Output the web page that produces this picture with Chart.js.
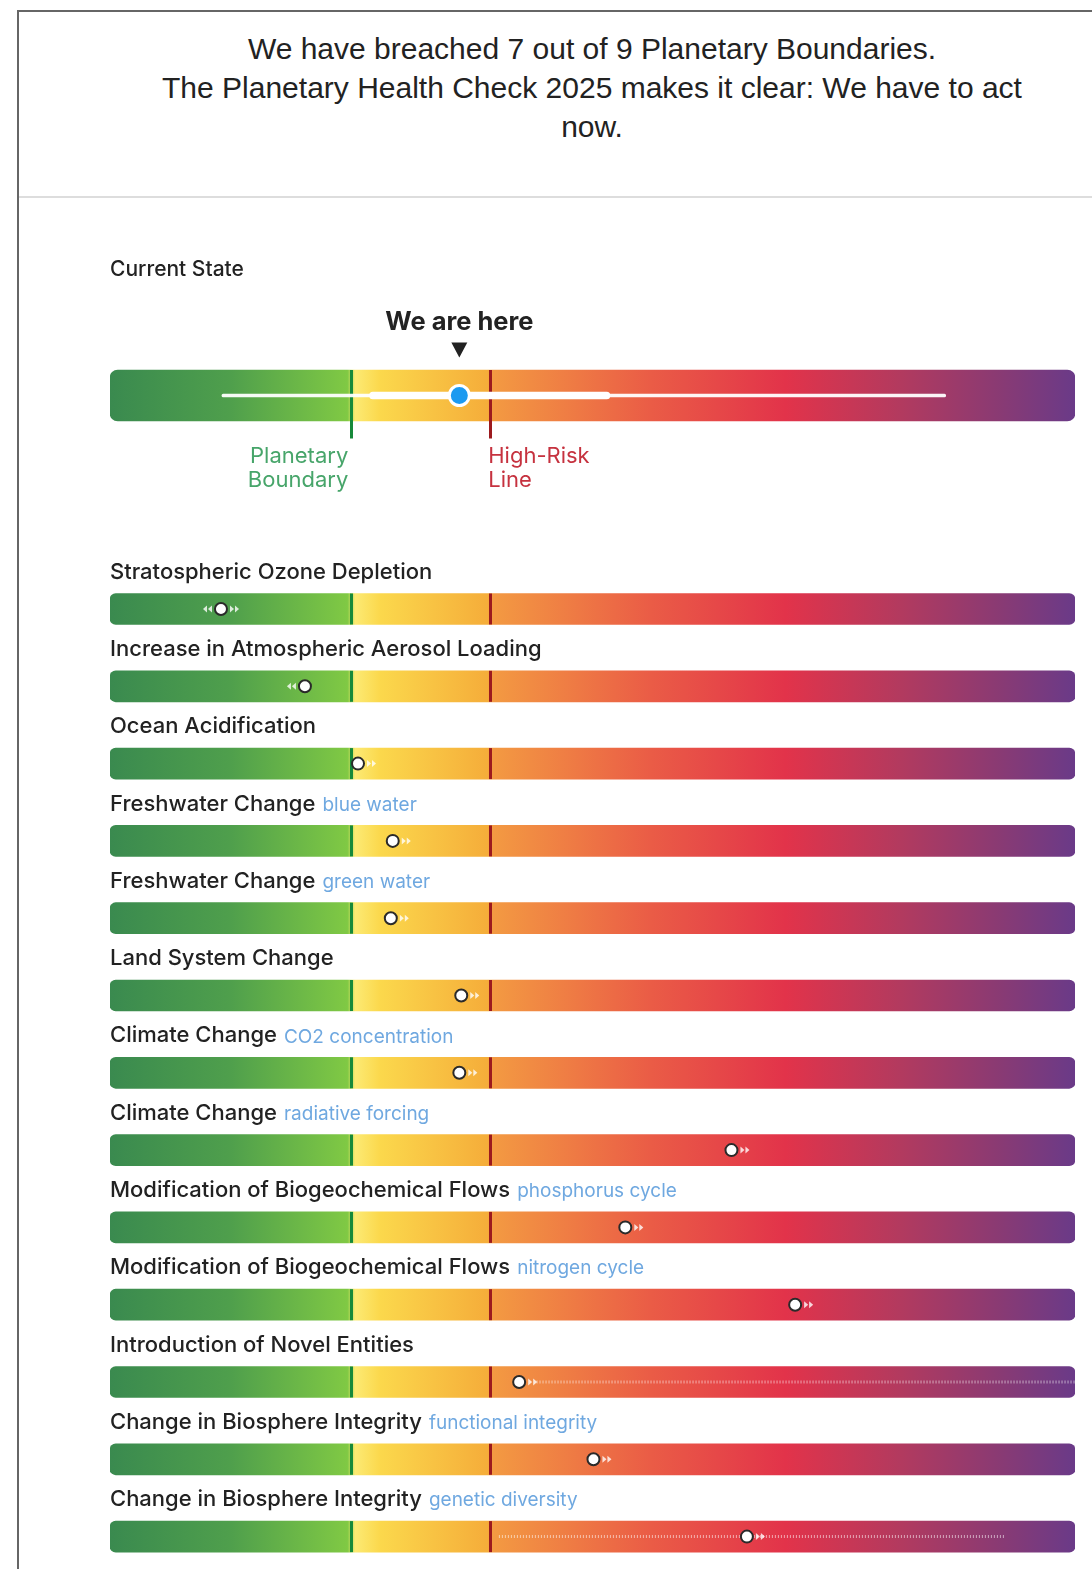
<!DOCTYPE html>
<html><head><meta charset="utf-8">
<script src="https://cdn.jsdelivr.net/npm/chart.js@4/dist/chart.umd.min.js"></script>
<style>
html,body{margin:0;padding:0;background:#fff;width:1092px;height:1569px;overflow:hidden;position:relative;}
#frame{position:absolute;left:17px;top:10px;width:1200px;height:1700px;border-left:2px solid #666;border-top:2px solid #666;}
#header{position:absolute;left:19px;top:12px;width:1100px;height:184px;border-bottom:2px solid #ddd;}
#htext{position:absolute;left:73px;top:17px;width:1000px;text-align:center;font-family:"Liberation Sans",Arial,sans-serif;font-size:30px;line-height:39px;color:#222;}
canvas{position:absolute;left:0;}
#c1{top:240px;}
#c2{top:540px;}
</style></head>
<body>
<div id="frame"></div>
<div id="header"><div id="htext">We have breached 7 out of 9 Planetary Boundaries.<br>The Planetary Health Check 2025 makes it clear: We have to act<br>now.</div></div>
<canvas id="c1" width="1092" height="270"></canvas>
<canvas id="c2" width="1092" height="1036"></canvas>
<script>
// ---- data ----
const categories = ["Stratospheric Ozone Depletion","Increase in Atmospheric Aerosol Loading","Ocean Acidification","Freshwater Change","Freshwater Change","Land System Change","Climate Change","Climate Change","Modification of Biogeochemical Flows","Modification of Biogeochemical Flows","Introduction of Novel Entities","Change in Biosphere Integrity","Change in Biosphere Integrity"];
const subLabels = ["","","","blue water","green water","","CO2 concentration","radiative forcing","phosphorus cycle","nitrogen cycle","","functional integrity","genetic diversity"];
const currentValues = [11.5,20.2,25.7,29.3,29.1,36.4,36.2,64.4,53.4,71.0,42.4,50.1,66.0];
const trends = ["both","down","up","up","up","up","up","up","up","up","up","up","up"];
const uncertaintyLow  = [null,null,null,null,null,null,null,null,null,null,44.2,null,40.3];
const uncertaintyHigh = [null,null,null,null,null,null,null,null,null,null,100,null,92.7];
const planetaryBoundary = 25.0;
const highRiskLine = 39.4;
const scaleMin = 0, scaleMax = 100;
const overallLabel = ["Current State"];
const overallState = 36.2;
const overallOuterRange = [11.6, 86.6];
const overallInnerRange = [26.9, 51.8];

// ---- styling helpers ----
function makeGradient(chart){
  const a = chart.chartArea;
  if(!a) return '#999';
  const g = chart.ctx.createLinearGradient(a.left,0,a.right,0);
  const pb = (planetaryBoundary-scaleMin)/(scaleMax-scaleMin);
  const hr = (highRiskLine-scaleMin)/(scaleMax-scaleMin);
  g.addColorStop(0,'#3a8a4f');
  g.addColorStop(pb*0.5,'#4f9f4c');
  g.addColorStop(pb-0.004,'#80c944');
  g.addColorStop(pb+0.004,'#fcea74');
  g.addColorStop(pb+0.03,'#fbd84c');
  g.addColorStop(hr-0.003,'#f5ad3a');
  g.addColorStop(hr+0.003,'#f39a42');
  g.addColorStop(0.56,'#ea5c46');
  g.addColorStop(0.70,'#e2334a');
  g.addColorStop(0.82,'#b23a5f');
  g.addColorStop(0.92,'#8a3a73');
  g.addColorStop(1,'#6a3a88');
  return g;
}
const FONT = 'Inter, "Noto Sans", sans-serif';

function drawArrows(ctx, x, y, dir){
  ctx.save();
  ctx.fillStyle = 'rgba(255,255,255,0.8)';
  const tri = (tx, s)=>{ctx.beginPath();ctx.moveTo(tx,y-3.5);ctx.lineTo(tx+4*s,y);ctx.lineTo(tx,y+3.5);ctx.closePath();ctx.fill();};
  if(dir==='up'||dir==='both'){ tri(x+9,1); tri(x+14,1); }
  if(dir==='down'||dir==='both'){ tri(x-9,-1); tri(x-14,-1); }
  ctx.restore();
}

// ---- chart 1 : overall current state ----
const overallPlugin = {
  id:'overall',
  afterDatasetDraw(chart,args){
    if(args.index!==0) return;
    const ctx=chart.ctx, xs=chart.scales.x, ys=chart.scales.y;
    const cy=ys.getPixelForValue(0);
    ctx.save();
    ctx.lineWidth=3;
    ctx.strokeStyle='#16893a';
    let px=Math.round(xs.getPixelForValue(planetaryBoundary))+0.5;
    ctx.beginPath();ctx.moveTo(px,cy-25.5);ctx.lineTo(px,cy+43);ctx.stroke();
    ctx.strokeStyle='#9c1a1e';
    px=Math.round(xs.getPixelForValue(highRiskLine))+0.5;
    ctx.beginPath();ctx.moveTo(px,cy-25.5);ctx.lineTo(px,cy+43);ctx.stroke();
    ctx.restore();
  },
  afterDraw(chart){
    const ctx=chart.ctx, xs=chart.scales.x, ys=chart.scales.y;
    const cy=ys.getPixelForValue(0);
    ctx.save();
    ctx.textBaseline='middle';
    ctx.fillStyle='#222';
    ctx.font='500 21px '+FONT;
    ctx.textAlign='left';
    ctx.fillText(overallLabel[0], xs.left, cy-125.5);
    const sx=xs.getPixelForValue(overallState);
    ctx.font='700 25.5px '+FONT;
    ctx.textAlign='center';
    ctx.fillText('We are here', sx, cy-73);
    ctx.beginPath();ctx.moveTo(sx-8,cy-53);ctx.lineTo(sx+8,cy-53);ctx.lineTo(sx,cy-38);ctx.closePath();ctx.fill();
    ctx.font='400 22px '+FONT;
    ctx.fillStyle='#47a56a';
    ctx.textAlign='right';
    const pbx=xs.getPixelForValue(planetaryBoundary);
    ctx.fillText('Planetary', pbx-3, cy+61);
    ctx.fillText('Boundary', pbx-3, cy+85);
    ctx.fillStyle='#c6323f';
    ctx.textAlign='left';
    const hrx=xs.getPixelForValue(highRiskLine);
    ctx.fillText('High-Risk', hrx-2, cy+61);
    ctx.fillText('Line', hrx-2, cy+85);
    ctx.restore();
  }
};
new Chart(document.getElementById('c1'),{
  type:'bar',
  data:{labels:overallLabel,datasets:[
    {data:[[scaleMin,scaleMax]],backgroundColor:c=>makeGradient(c.chart),barThickness:51,borderRadius:8,borderSkipped:false,order:10},
    {data:[overallOuterRange],backgroundColor:'rgba(255,255,255,0.95)',barThickness:3,borderRadius:2,borderSkipped:false,order:3},
    {data:[overallInnerRange],backgroundColor:'#ffffff',barThickness:7,borderRadius:4,borderSkipped:false,order:2},
    {type:'scatter',data:[{x:overallState,y:0}],pointRadius:10,pointBackgroundColor:'#1c9af0',pointBorderColor:'#fff',pointBorderWidth:3,order:1}
  ]},
  options:{
    indexAxis:'y',responsive:false,animation:false,devicePixelRatio:1,
    datasets:{bar:{grouped:false}},
    layout:{autoPadding:false,padding:{left:110,right:17,top:100,bottom:59}},
    plugins:{legend:{display:false},tooltip:{enabled:false}},
    scales:{x:{type:'linear',min:scaleMin,max:scaleMax,display:false},y:{type:'category',display:false,offset:true}}
  },
  plugins:[overallPlugin]
});

// ---- chart 2 : boundaries ----
const rowsPlugin = {
  id:'rows',
  afterDatasetDraw(chart,args){
    if(args.index!==0) return;
    const ctx=chart.ctx, xs=chart.scales.x, ys=chart.scales.y;
    const pbx=Math.round(xs.getPixelForValue(planetaryBoundary))+0.5;
    const hrx=Math.round(xs.getPixelForValue(highRiskLine))+0.5;
    ctx.save();
    categories.forEach((c,i)=>{
      const cy=ys.getPixelForValue(i);
      if(uncertaintyLow[i]!=null){
        ctx.strokeStyle='rgba(255,255,255,0.55)';
        ctx.lineWidth=3;
        ctx.setLineDash([1,2]);
        ctx.beginPath();
        ctx.moveTo(xs.getPixelForValue(uncertaintyLow[i]),cy);
        ctx.lineTo(xs.getPixelForValue(uncertaintyHigh[i]),cy);
        ctx.stroke();
        ctx.setLineDash([]);
      }
      ctx.lineWidth=3;
      ctx.strokeStyle='#16893a';
      ctx.beginPath();ctx.moveTo(pbx,cy-15.5);ctx.lineTo(pbx,cy+15.5);ctx.stroke();
      ctx.strokeStyle='#9c1a1e';
      ctx.beginPath();ctx.moveTo(hrx,cy-15.5);ctx.lineTo(hrx,cy+15.5);ctx.stroke();
      drawArrows(ctx, xs.getPixelForValue(currentValues[i]), cy, trends[i]);
    });
    ctx.restore();
  },
  afterDraw(chart){
    const ctx=chart.ctx, xs=chart.scales.x, ys=chart.scales.y;
    ctx.save();
    ctx.textBaseline='middle';
    ctx.textAlign='left';
    categories.forEach((c,i)=>{
      const cy=ys.getPixelForValue(i)-37;
      ctx.font='500 22px '+FONT;
      ctx.fillStyle='#222';
      ctx.fillText(c, xs.left, cy);
      if(subLabels[i]){
        const w=ctx.measureText(c).width;
        ctx.font='400 19px '+FONT;
        ctx.fillStyle='#6fa8e0';
        ctx.fillText(subLabels[i], xs.left+w+7, cy+1);
      }
    });
    ctx.restore();
  }
};
new Chart(document.getElementById('c2'),{
  type:'bar',
  data:{labels:categories,datasets:[
    {data:categories.map(()=>[scaleMin,scaleMax]),backgroundColor:c=>makeGradient(c.chart),barThickness:31,borderRadius:6,borderSkipped:false,order:10},
    {type:'scatter',data:currentValues.map((v,i)=>({x:v,y:i})),pointRadius:6,pointBackgroundColor:'#fff',pointBorderColor:'#2a2a2a',pointBorderWidth:2,order:1}
  ]},
  options:{
    indexAxis:'y',responsive:false,animation:false,devicePixelRatio:1,
    datasets:{bar:{grouped:false}},
    layout:{autoPadding:false,padding:{left:110,right:17,top:30.35,bottom:0.75}},
    plugins:{legend:{display:false},tooltip:{enabled:false}},
    scales:{x:{type:'linear',min:scaleMin,max:scaleMax,display:false},y:{type:'category',display:false,offset:true}}
  },
  plugins:[rowsPlugin]
});
</script>
</body></html>
